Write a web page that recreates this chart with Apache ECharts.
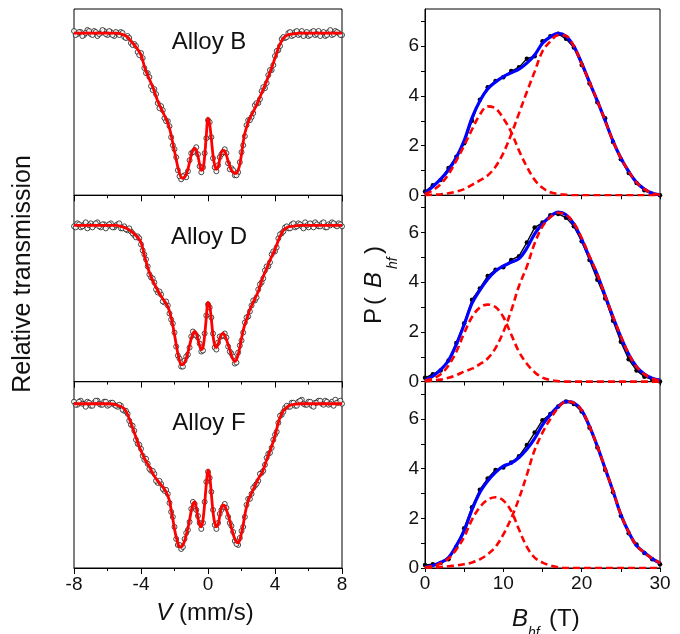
<!DOCTYPE html>
<html><head><meta charset="utf-8">
<script src="https://cdn.jsdelivr.net/npm/echarts@6/dist/echarts.min.js"></script>
<style>html,body{margin:0;padding:0;background:#fff}#c{width:680px;height:634px}</style>
</head><body><div id="c"></div>
<script>
// ---------- Mössbauer spectra (left column) ----------
const vGrid = [-8,-7,-6,-5.5,-5,-4.75,-4.5,-4.25,-4,-3.75,-3.5,-3.25,-3,-2.75,-2.5,
  -2.4,-2.3,-2.2,-2.1,-2,-1.9,-1.8,-1.7,-1.6,-1.5,-1.4,-1.3,-1.2,-1.1,-1,-0.9,-0.8,-0.7,-0.6,-0.5,-0.4,-0.3,-0.2,-0.1,
  0,0.1,0.2,0.3,0.4,0.5,0.6,0.7,0.8,0.9,1,1.1,1.2,1.3,1.4,1.5,1.6,1.7,1.8,1.9,2,2.1,2.2,2.3,2.4,
  2.5,2.75,3,3.25,3.5,3.75,4,4.25,4.5,4.75,5,5.5,6,7,8];
const fitAlloyB = [1.000,1.000,1.000,1.000,0.998,0.995,0.990,0.985,0.978,0.964,0.954,0.944,0.932,0.923,0.914,
  0.910,0.905,0.898,0.890,0.882,0.874,0.866,0.860,0.856,0.855,0.856,0.859,0.864,0.871,0.878,0.883,0.885,0.883,0.877,0.869,0.863,0.864,0.877,0.898,
  0.915,0.909,0.894,0.878,0.868,0.864,0.866,0.874,0.881,0.883,0.882,0.878,0.872,0.867,0.863,0.861,0.860,0.860,0.863,0.869,0.879,0.891,0.900,0.906,0.911,
  0.915,0.923,0.932,0.942,0.952,0.963,0.975,0.987,0.995,0.998,0.999,1.000,1.000,1.000,1.000];
const fitAlloyD = [1.000,1.000,1.000,1.000,0.998,0.996,0.993,0.989,0.983,0.967,0.953,0.943,0.935,0.928,0.922,
  0.919,0.914,0.908,0.900,0.891,0.881,0.872,0.865,0.861,0.861,0.863,0.867,0.873,0.880,0.887,0.892,0.894,0.892,0.886,0.880,0.876,0.878,0.890,0.908,
  0.923,0.920,0.906,0.890,0.880,0.878,0.881,0.887,0.891,0.892,0.890,0.886,0.881,0.876,0.870,0.866,0.864,0.866,0.871,0.878,0.887,0.895,0.901,0.906,0.911,
  0.916,0.925,0.934,0.947,0.957,0.967,0.976,0.987,0.995,0.998,0.999,1.000,1.000,1.000,1.000];
const fitAlloyF = [1.000,1.000,1.000,0.999,0.995,0.987,0.976,0.964,0.953,0.944,0.937,0.929,0.923,0.918,0.912,
  0.908,0.903,0.894,0.885,0.875,0.867,0.861,0.857,0.857,0.859,0.863,0.869,0.876,0.884,0.893,0.900,0.902,0.896,0.886,0.879,0.877,0.884,0.900,0.920,
  0.934,0.928,0.910,0.892,0.881,0.877,0.879,0.888,0.896,0.899,0.898,0.894,0.889,0.883,0.876,0.870,0.865,0.862,0.861,0.864,0.871,0.879,0.889,0.897,0.903,
  0.907,0.916,0.925,0.932,0.944,0.955,0.968,0.984,0.993,0.997,0.999,1.000,1.000,1.000,1.000];

// measured points: even channels (vPts) and odd channels (vPtsOdd)
const vPts = [-8,-7.8,-7.6,-7.4,-7.2,-7,-6.8,-6.6,-6.4,-6.2,-6,-5.8,-5.6,-5.4,-5.2,-5,-4.8,-4.6,-4.4,-4.2,
  -4,-3.8,-3.6,-3.4,-3.2,-3,-2.8,-2.6,-2.4,-2.2,-2,-1.8,-1.6,-1.4,-1.2,-1,-0.8,-0.6,-0.4,-0.2,
  0,0.2,0.4,0.6,0.8,1,1.2,1.4,1.6,1.8,2,2.2,2.4,2.6,2.8,3,3.2,3.4,3.6,3.8,
  4,4.2,4.4,4.6,4.8,5,5.2,5.4,5.6,5.8,6,6.2,6.4,6.6,6.8,7,7.2,7.4,7.6,7.8,8];
const vPtsOdd = [-7.9,-7.7,-7.5,-7.3,-7.1,-6.9,-6.7,-6.5,-6.3,-6.1,-5.9,-5.7,-5.5,-5.3,-5.1,-4.9,-4.7,-4.5,-4.3,-4.1,
  -3.9,-3.7,-3.5,-3.3,-3.1,-2.9,-2.7,-2.5,-2.3,-2.1,-1.9,-1.7,-1.5,-1.3,-1.1,-0.9,-0.7,-0.5,-0.3,-0.1,
  0.1,0.3,0.5,0.7,0.9,1.1,1.3,1.5,1.7,1.9,2.1,2.3,2.5,2.7,2.9,3.1,3.3,3.5,3.7,3.9,
  4.1,4.3,4.5,4.7,4.9,5.1,5.3,5.5,5.7,5.9,6.1,6.3,6.5,6.7,6.9,7.1,7.3,7.5,7.7,7.9];
const dataAlloyB = [1.002,0.999,1.001,0.998,1.003,0.999,1.002,0.997,1.000,1.002,
  0.998,1.001,0.997,1.000,1.001,0.996,0.997,0.990,0.989,0.981,
  0.980,0.965,0.960,0.947,0.944,0.930,0.927,0.915,0.912,0.896,
  0.884,0.863,0.854,0.858,0.862,0.880,0.883,0.879,0.861,0.880,
  0.913,
  0.896,0.866,0.868,0.879,0.884,0.870,0.865,0.858,0.861,0.881,
  0.897,0.913,0.916,0.928,0.930,0.942,0.945,0.958,0.963,0.977,
  0.983,0.994,0.995,1.000,0.997,1.001,0.998,1.002,0.999,0.997,
  1.001,0.998,1.002,0.999,0.997,1.001,0.998,1.002,1.000,0.998];
const dataAlloyBOdd = [0.998,1.001,0.997,1.000,1.002,0.998,1.001,0.999,1.003,0.999,
  1.002,0.998,1.001,0.998,1.000,0.995,0.995,0.988,0.987,0.978,
  0.975,0.960,0.956,0.943,0.939,0.925,0.923,0.912,0.907,0.888,
  0.876,0.857,0.857,0.856,0.873,0.881,0.886,0.867,0.866,0.895,
  0.911,0.875,0.862,0.876,0.881,0.880,0.864,0.863,0.858,0.871,
  0.888,0.908,0.913,0.920,0.930,0.934,0.946,0.950,0.963,0.968,
  0.982,0.987,0.996,0.996,1.001,0.998,1.002,0.999,0.997,1.001,
  0.998,1.002,0.999,0.997,1.001,0.998,1.003,0.999,1.001,0.998];
const dataAlloyD = [0.999,1.002,0.998,1.001,0.997,1.002,1.000,1.003,0.998,1.001,
  0.999,1.002,0.998,1.001,0.997,0.999,0.995,0.994,0.990,0.989,
  0.981,0.971,0.959,0.948,0.943,0.933,0.931,0.923,0.920,0.906,
  0.893,0.870,0.859,0.865,0.871,0.889,0.892,0.888,0.874,0.892,
  0.921,
  0.908,0.878,0.883,0.889,0.892,0.879,0.872,0.862,0.873,0.885,
  0.903,0.909,0.920,0.925,0.936,0.943,0.955,0.959,0.971,0.974,
  0.987,0.992,0.998,0.997,1.001,0.998,1.002,0.999,1.003,0.998,
  1.001,1.003,0.999,1.002,0.998,1.001,1.003,1.000,1.002,0.999];
const dataAlloyDOdd = [0.998,1.001,0.999,1.003,1.000,0.998,1.002,0.999,1.001,0.997,
  1.001,0.998,1.000,1.002,0.997,0.996,0.997,0.992,0.988,0.987,
  0.975,0.966,0.951,0.947,0.936,0.934,0.924,0.924,0.912,0.902,
  0.879,0.867,0.859,0.869,0.878,0.894,0.890,0.882,0.875,0.910,
  0.918,0.892,0.876,0.889,0.890,0.888,0.874,0.869,0.863,0.880,
  0.893,0.908,0.914,0.925,0.928,0.941,0.947,0.959,0.963,0.974,
  0.978,0.991,0.994,0.999,0.997,1.002,0.999,1.001,0.997,1.000,
  1.002,0.998,1.001,0.999,1.003,0.998,1.000,1.002,0.999,1.001];
const dataAlloyF = [1.002,0.999,1.003,1.000,1.002,0.998,1.001,1.003,0.999,1.002,
  0.998,1.001,0.999,0.997,0.998,0.993,0.990,0.979,0.973,0.960,
  0.955,0.944,0.940,0.933,0.930,0.921,0.920,0.913,0.910,0.892,
  0.877,0.859,0.855,0.865,0.874,0.895,0.900,0.888,0.875,0.902,
  0.932,
  0.912,0.879,0.881,0.894,0.900,0.887,0.878,0.863,0.859,0.873,
  0.887,0.905,0.910,0.918,0.923,0.931,0.939,0.950,0.956,0.969,
  0.981,0.989,0.996,0.997,1.001,0.998,1.002,1.004,0.999,1.002,
  0.998,1.001,1.003,1.000,1.003,0.999,1.002,1.004,1.001,1.000];
const dataAlloyFOdd = [0.999,1.002,1.000,0.997,1.001,0.998,1.003,1.000,0.999,1.002,
  0.999,1.001,0.998,0.999,0.994,0.993,0.983,0.978,0.964,0.959,
  0.948,0.945,0.935,0.933,0.923,0.923,0.915,0.914,0.901,0.887,
  0.865,0.859,0.857,0.871,0.882,0.902,0.894,0.881,0.881,0.922,
  0.926,0.894,0.875,0.890,0.897,0.896,0.881,0.872,0.860,0.866,
  0.877,0.899,0.905,0.916,0.920,0.930,0.933,0.946,0.951,0.964,
  0.972,0.988,0.992,0.998,0.997,1.001,0.998,1.003,1.000,0.999,
  1.002,0.997,1.001,1.003,0.999,1.002,1.000,0.998,1.001,1.003];
const alloyNames = ['Alloy B','Alloy D','Alloy F'];

// ---------- Hyperfine field distributions (right column) ----------
const bGrid = [0,1,2,3,4,5,6,7,8,9,10,11,12,13,14,15,16,17,18,19,20,21,22,23,24,25,26,27,28,29,30];
const pDataB = [0.15,0.4,0.62,1.1,1.55,2.1,3.0,3.85,4.35,4.6,4.75,5.0,5.15,5.5,5.6,6.2,6.4,6.5,6.3,5.95,5.25,4.5,3.75,3.1,2.15,1.45,0.9,0.5,0.2,0.06,0.0];
const pFitB  = [0.08,0.35,0.65,1.02,1.52,2.2,3.12,3.8,4.28,4.56,4.78,4.93,5.08,5.32,5.65,6.12,6.38,6.52,6.4,6.0,5.32,4.55,3.8,3.0,2.18,1.5,0.96,0.52,0.25,0.08,0.02];
const pLowB  = [0.05,0.2,0.45,0.85,1.4,2.0,2.65,3.25,3.58,3.5,3.1,2.55,1.8,1.15,0.62,0.3,0.12,0.05,0.02,0,0,0,0,0,0,0,0,0,0,0,0];
const pHighB = [0,0.02,0.04,0.08,0.15,0.25,0.42,0.6,0.8,1.15,1.7,2.45,3.3,4.16,4.98,5.8,6.2,6.45,6.42,6.0,5.3,4.55,3.8,3.0,2.18,1.5,0.96,0.52,0.25,0.08,0.02];

const pDataD = [0.15,0.3,0.45,0.85,1.55,2.35,3.3,3.75,4.25,4.5,4.6,4.9,5.05,5.6,6.2,6.4,6.7,6.75,6.6,6.25,5.65,4.9,4.1,3.35,2.45,1.6,0.9,0.45,0.2,0.08,0.0];
const pFitD  = [0.06,0.22,0.48,0.85,1.5,2.3,3.15,3.68,4.12,4.45,4.66,4.8,4.95,5.37,5.95,6.35,6.65,6.82,6.72,6.35,5.72,5.0,4.3,3.45,2.6,1.8,1.1,0.6,0.3,0.14,0.06];
const pLowD  = [0.04,0.12,0.3,0.65,1.2,1.95,2.6,2.98,3.1,3.0,2.6,1.9,1.2,0.72,0.38,0.16,0.06,0.02,0,0,0,0,0,0,0,0,0,0,0,0,0];
const pHighD = [0.02,0.04,0.08,0.15,0.26,0.4,0.52,0.7,0.93,1.35,2.0,2.85,3.85,4.63,5.57,6.25,6.62,6.8,6.72,6.38,5.78,5.05,4.32,3.45,2.62,1.82,1.12,0.6,0.3,0.12,0.04];

const pDataF = [0.12,0.15,0.2,0.35,0.85,1.6,2.45,3.15,3.6,3.95,4.05,4.25,4.5,4.95,5.45,5.95,6.2,6.5,6.7,6.6,6.3,5.65,4.85,3.95,3.05,2.1,1.4,0.95,0.6,0.35,0.15];
const pFitF  = [0.04,0.1,0.22,0.42,0.9,1.5,2.35,3.04,3.5,3.85,4.1,4.22,4.45,4.78,5.22,5.76,6.17,6.5,6.7,6.65,6.35,5.7,4.9,4.0,3.1,2.15,1.45,0.9,0.62,0.38,0.2];
const pLowF  = [0.03,0.08,0.18,0.38,0.75,1.25,1.95,2.45,2.75,2.85,2.72,2.3,1.55,0.85,0.42,0.22,0.1,0.03,0,0,0,0,0,0,0,0,0,0,0,0,0];
const pHighF = [0.01,0.02,0.04,0.07,0.1,0.15,0.22,0.35,0.55,0.85,1.35,2.0,2.8,3.75,4.75,5.45,6.0,6.45,6.7,6.65,6.35,5.7,4.9,4.0,3.1,2.15,1.45,0.9,0.62,0.38,0.2];

const vTicks = [-8,-4,0,4,8];
const bTicks = [0,10,20,30];
const pTicks = [0,2,4,6];

// ---------- layout / style ----------
const FONT = '"Liberation Sans", Arial, Helvetica, sans-serif';
const tops = [9, 195.3, 381.7];
const PH = 186.3;
const yRanges = [[0.838,1.024],[0.844,1.030],[0.836,1.022]];
const zip = (xs, ys) => xs.map((x, i) => [x, ys[i]]);

const leftFits = [fitAlloyB, fitAlloyD, fitAlloyF];
const leftData = [dataAlloyB, dataAlloyD, dataAlloyF];
const leftDataOdd = [dataAlloyBOdd, dataAlloyDOdd, dataAlloyFOdd];
const rData = [pDataB, pDataD, pDataF];
const rFit = [pFitB, pFitD, pFitF];
const rLow = [pLowB, pLowD, pLowF];
const rHigh = [pHighB, pHighD, pHighF];

const grid = [], xAxis = [], yAxis = [], series = [];
const axisBase = {
  axisLine: {show: true, lineStyle: {color: '#000', width: 1}},
  splitLine: {show: false}
};
for (let i = 0; i < 3; i++) {
  grid.push({left: 74, top: tops[i], width: 268, height: PH, show: true, borderColor: '#000', borderWidth: 1, backgroundColor: 'transparent', outerBoundsMode: 'none'});
  xAxis.push(Object.assign({}, axisBase, {
    gridIndex: i, type: 'value', min: -8, max: 8, interval: 4,
    axisTick: {show: true, inside: false, length: 6, lineStyle: {color: '#000', width: 1}},
    minorTick: {show: true, splitNumber: 2, length: 3, lineStyle: {color: '#000', width: 1}},
    axisLabel: {show: i === 2, fontSize: 19, color: '#111', fontFamily: FONT, margin: 7, customValues: vTicks}
  }));
  yAxis.push({gridIndex: i, type: 'value', min: yRanges[i][0], max: yRanges[i][1], show: false, splitLine: {show: false}});
}
for (let i = 0; i < 3; i++) {
  grid.push({left: 425, top: tops[i], width: 235, height: PH, show: true, borderColor: '#000', borderWidth: 1, backgroundColor: 'transparent', outerBoundsMode: 'none'});
  xAxis.push(Object.assign({}, axisBase, {
    gridIndex: 3 + i, type: 'value', min: 0, max: 30, interval: 10,
    axisTick: {show: true, inside: false, length: 4, lineStyle: {color: '#000', width: 1}},
    minorTick: {show: true, splitNumber: 2, length: 4, lineStyle: {color: '#000', width: 1}},
    axisLabel: {show: i === 2, fontSize: 19, color: '#111', fontFamily: FONT, margin: 6, customValues: bTicks}
  }));
  yAxis.push(Object.assign({}, axisBase, {
    gridIndex: 3 + i, type: 'value', min: 0, max: 7.5, interval: 1,
    axisTick: {show: true, inside: false, length: 4, lineStyle: {color: '#000', width: 1}, customValues: [0,1,2,3,4,5,6,7]},
    axisLabel: {show: true, fontSize: 19, color: '#111', fontFamily: FONT, margin: 6, customValues: pTicks}
  }));
}

const ptStyle = {color: '#fff', borderColor: '#1a1a1a', borderWidth: 1};
for (let i = 0; i < 3; i++) {
  series.push({type: 'scatter', xAxisIndex: i, yAxisIndex: i, data: zip(vPts, leftData[i]),
    symbol: 'circle', symbolSize: 5, silent: true, z: 2, itemStyle: ptStyle});
  series.push({type: 'scatter', xAxisIndex: i, yAxisIndex: i, data: zip(vPtsOdd, leftDataOdd[i]),
    symbol: 'circle', symbolSize: 5, silent: true, z: 2, itemStyle: ptStyle});
  series.push({type: 'line', xAxisIndex: i, yAxisIndex: i, data: zip(vGrid, leftFits[i]),
    showSymbol: false, smooth: 0.35, silent: true, z: 3,
    lineStyle: {color: '#ff0000', width: 2.8}});
}
for (let i = 0; i < 3; i++) {
  const a = 3 + i;
  series.push({type: 'line', xAxisIndex: a, yAxisIndex: a, data: zip(bGrid, rData[i]),
    symbol: 'circle', symbolSize: 4.5, showSymbol: true, silent: true, z: 2,
    itemStyle: {color: '#000'}, lineStyle: {color: '#000', width: 1.4}});
  series.push({type: 'line', xAxisIndex: a, yAxisIndex: a, data: zip(bGrid, rFit[i]),
    showSymbol: false, smooth: 0.35, silent: true, z: 3,
    lineStyle: {color: '#0000ff', width: 3.2}});
  series.push({type: 'line', xAxisIndex: a, yAxisIndex: a, data: zip(bGrid, rLow[i]),
    showSymbol: false, smooth: 0.35, silent: true, z: 4,
    lineStyle: {color: '#ff0000', width: 2.6, type: [7, 4]}});
  series.push({type: 'line', xAxisIndex: a, yAxisIndex: a, data: zip(bGrid, rHigh[i]),
    showSymbol: false, smooth: 0.35, silent: true, z: 4,
    lineStyle: {color: '#ff0000', width: 2.6, type: [7, 4]}});
}

const txt = (x, y, text, size, extra) => Object.assign({type: 'text', x: x, y: y, silent: true,
  style: Object.assign({text: text, fontSize: size, fontFamily: FONT, fill: '#111', align: 'center', verticalAlign: 'middle'}, extra || {})});
const alloyY = [42, 237.5, 423.3];
const graphics = [];
for (let i = 0; i < 3; i++) graphics.push(txt(209, alloyY[i], alloyNames[i], 24));
graphics.push({type: 'text', x: 23, y: 274, rotation: Math.PI / 2, silent: true,
  style: {text: 'Relative transmission', fontSize: 25, fontFamily: FONT, fill: '#111', align: 'center', verticalAlign: 'middle'}});
graphics.push({type: 'text', x: 205, y: 613, silent: true,
  style: {text: '{i|V} (mm/s)', fontSize: 24, fontFamily: FONT, fill: '#111', align: 'center', verticalAlign: 'middle',
    rich: {i: {fontSize: 24, fontFamily: FONT, fontStyle: 'italic', fill: '#111'}}}});
// B_hf (T)
graphics.push(txt(512, 619, 'B', 24, {align: 'left', fontStyle: 'italic'}));
graphics.push(txt(528, 633, 'hf', 14, {align: 'left', fontStyle: 'italic'}));
graphics.push(txt(549, 619, '(T)', 24, {align: 'left'}));
// P (B_hf) rotated
graphics.push({type: 'group', x: 374, y: 283, rotation: Math.PI / 2, silent: true, children: [
  txt(-41, 0, 'P', 24, {align: 'left'}),
  txt(-22, 0, '(', 24, {align: 'left'}),
  txt(-5, 0, 'B', 24, {align: 'left', fontStyle: 'italic'}),
  txt(14, 19, 'hf', 14, {align: 'left', fontStyle: 'italic'}),
  txt(29, 0, ')', 24, {align: 'left'})
]});

const chart = echarts.init(document.getElementById('c'), null, {renderer: 'canvas'});
chart.setOption({animation: false, backgroundColor: '#fff', grid, xAxis, yAxis, series, graphic: {elements: graphics}});
</script></body></html>
